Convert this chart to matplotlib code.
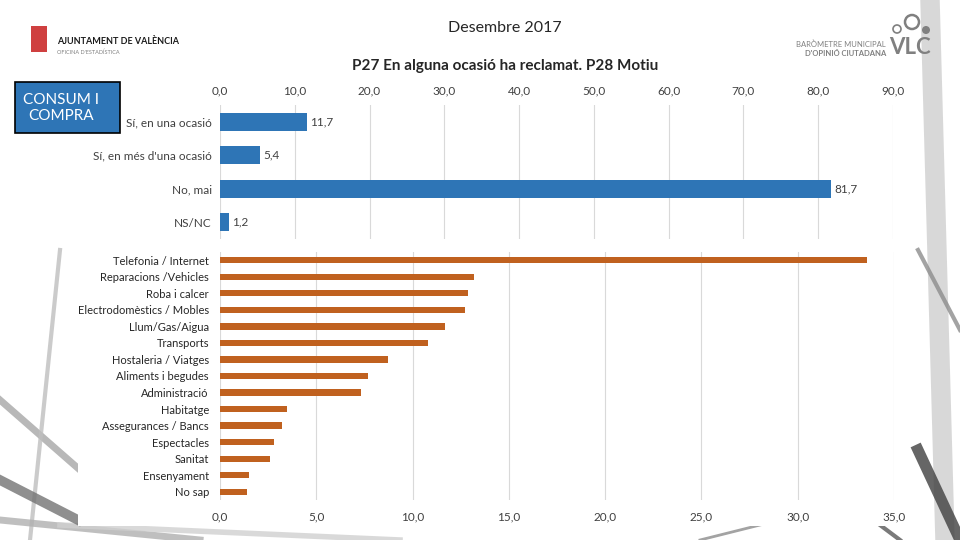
import matplotlib
matplotlib.use("Agg")
import matplotlib.pyplot as plt
from matplotlib.patches import Rectangle, Ellipse
from matplotlib.lines import Line2D

plt.rcParams['font.family'] = ['Lato', 'DejaVu Sans']

# P27 answers
p27_labels = ["Sí, en una ocasió", "Sí, en més d'una ocasió", "No, mai", "NS/NC"]
p27_values = [11.7, 5.4, 81.7, 1.2]

# P28 motives
p28_labels = ["Telefonia / Internet", "Reparacions /Vehicles", "Roba i calcer",
              "Electrodomèstics / Mobles", "Llum/Gas/Aigua", "Transports",
              "Hostaleria / Viatges", "Aliments i begudes", "Administració",
              "Habitatge", "Assegurances / Bancs", "Espectacles", "Sanitat",
              "Ensenyament", "No sap"]
p28_values = [33.6, 13.2, 12.9, 12.7, 11.7, 10.8, 8.7, 7.7, 7.3,
              3.5, 3.2, 2.8, 2.6, 1.5, 1.4]

top_ticks = [0, 10, 20, 30, 40, 50, 60, 70, 80, 90]
bottom_ticks = [0, 5, 10, 15, 20, 25, 30, 35]

BLUE = '#2E75B6'
ORANGE = '#C0611F'
GRID = '#D9D9D9'
TXT = '#404040'


def comma(v):
    return f"{v:.1f}".replace('.', ',')


fig = plt.figure(figsize=(9.6, 5.4), dpi=100)
W, H = 960, 540


def fx(x):
    return x / W


def fy(y):
    return 1 - y / H


# background photo hints (grey structure around the edges)
for (x0, y0, x1, y1, lw, c) in [
        (0, 400, 80, 470, 5, '#A6A6A6'), (30, 540, 60, 250, 3, '#BFBFBF'),
        (0, 520, 200, 540, 5, '#B0B0B0'), (60, 525, 400, 540, 4, '#D0D0D0'),
        (930, 0, 945, 540, 14, '#CFCFCF'), (918, 250, 960, 330, 3, '#8C8C8C'),
        (918, 450, 960, 540, 8, '#404040'), (700, 540, 760, 525, 2, '#8C8C8C'),
        (880, 525, 900, 540, 3, '#595959'), (0, 480, 78, 520, 7, '#737373')]:
    fig.add_artist(Line2D([fx(x0), fx(x1)], [fy(y0), fy(y1)], lw=lw, color=c,
                          alpha=0.8, zorder=-3))
fig.add_artist(Rectangle((fx(78), fy(526)), fx(900 - 78), 276 / H,
                         facecolor='white', edgecolor='none', zorder=-2))
fig.add_artist(Rectangle((0, fy(246)), fx(918), 246 / H,
                         facecolor='white', edgecolor='none', zorder=-2))

# titles
fig.text(0.526, fy(28), "Desembre 2017", ha='center', va='center',
         fontsize=11.5, color='#262626')
fig.text(0.526, fy(66), "P27 En alguna ocasió ha reclamat. P28 Motiu",
         ha='center', va='center', fontsize=11, fontweight='bold', color='#262626')

# section box
fig.add_artist(Rectangle((fx(15), fy(133)), fx(105), 51 / H, facecolor=BLUE,
                         edgecolor='black', lw=1.2, zorder=2))
fig.text(fx(61), fy(108), "CONSUM I\nCOMPRA", ha='center', va='center',
         multialignment='center', fontsize=11, color='white',
         linespacing=1.15, zorder=3)

# Ajuntament logo
fig.add_artist(Rectangle((fx(31), fy(52)), fx(16), 26 / H, facecolor='#C00000',
                         edgecolor='none', alpha=0.75))
fig.text(fx(57), fy(42), "AJUNTAMENT DE VALÈNCIA", ha='left', va='center',
         fontsize=6.5, fontweight='bold', color='#1A1A1A')
fig.text(fx(57), fy(52), "OFICINA D'ESTADÍSTICA", ha='left', va='center',
         fontsize=4, color='#808080')

# VLC logo
fig.text(fx(886), fy(44), "BARÒMETRE MUNICIPAL", ha='right', va='center',
         fontsize=5.5, color='#808080')
fig.text(fx(886), fy(53), "D'OPINIÓ CIUTADANA", ha='right', va='center',
         fontsize=5.5, fontweight='bold', color='#808080')
fig.text(fx(910), fy(47), "VLC", ha='center', va='center', fontsize=16,
         fontweight='bold', color='#808080')
fig.add_artist(Ellipse((fx(897), fy(29)), 8 / W, 8 / H,
                       facecolor='none', edgecolor='#808080', lw=1.2))
fig.add_artist(Ellipse((fx(912), fy(22)), 14 / W, 14 / H,
                       facecolor='none', edgecolor='#808080', lw=1.8))
fig.add_artist(Ellipse((fx(926), fy(30)), 8 / W, 8 / H,
                       facecolor='#808080', edgecolor='none'))

# top chart (P27)
ax1 = fig.add_axes([fx(220), fy(239), fx(893 - 220), 134 / H])
ax1.barh(range(len(p27_values)), p27_values, height=0.54, color=BLUE, zorder=3)
for i, v in enumerate(p27_values):
    ax1.text(v + 0.4, i, comma(v), va='center', ha='left', fontsize=8.5, color=TXT)
ax1.set_xlim(0, 90)
ax1.set_ylim(len(p27_values) - 0.5, -0.5)
ax1.set_yticks(range(len(p27_labels)))
ax1.set_yticklabels(p27_labels, fontsize=8.5, color=TXT)
ax1.set_xticks(top_ticks)
ax1.set_xticklabels([comma(t) for t in top_ticks], fontsize=8.5, color=TXT)
ax1.xaxis.tick_top()
ax1.tick_params(length=0, pad=6)
ax1.grid(axis='x', color=GRID, lw=0.8, zorder=0)
for s in ax1.spines.values():
    s.set_visible(False)
ax1.patch.set_alpha(0)

# bottom chart (P28)
ax2 = fig.add_axes([fx(220), fy(500), fx(894 - 220), 248 / H])
ax2.barh(range(len(p28_values)), p28_values, height=0.38, color=ORANGE, zorder=3)
ax2.set_xlim(0, 35)
ax2.set_ylim(len(p28_values) - 0.5, -0.5)
ax2.set_yticks(range(len(p28_labels)))
ax2.set_yticklabels(p28_labels, fontsize=8, color='#262626')
ax2.set_xticks(bottom_ticks)
ax2.set_xticklabels([comma(t) for t in bottom_ticks], fontsize=8.5, color=TXT)
ax2.tick_params(length=0, pad=8)
ax2.grid(axis='x', color=GRID, lw=0.8, zorder=0)
for s in ax2.spines.values():
    s.set_visible(False)
ax2.patch.set_alpha(0)

fig.savefig("out.png", dpi=100)
